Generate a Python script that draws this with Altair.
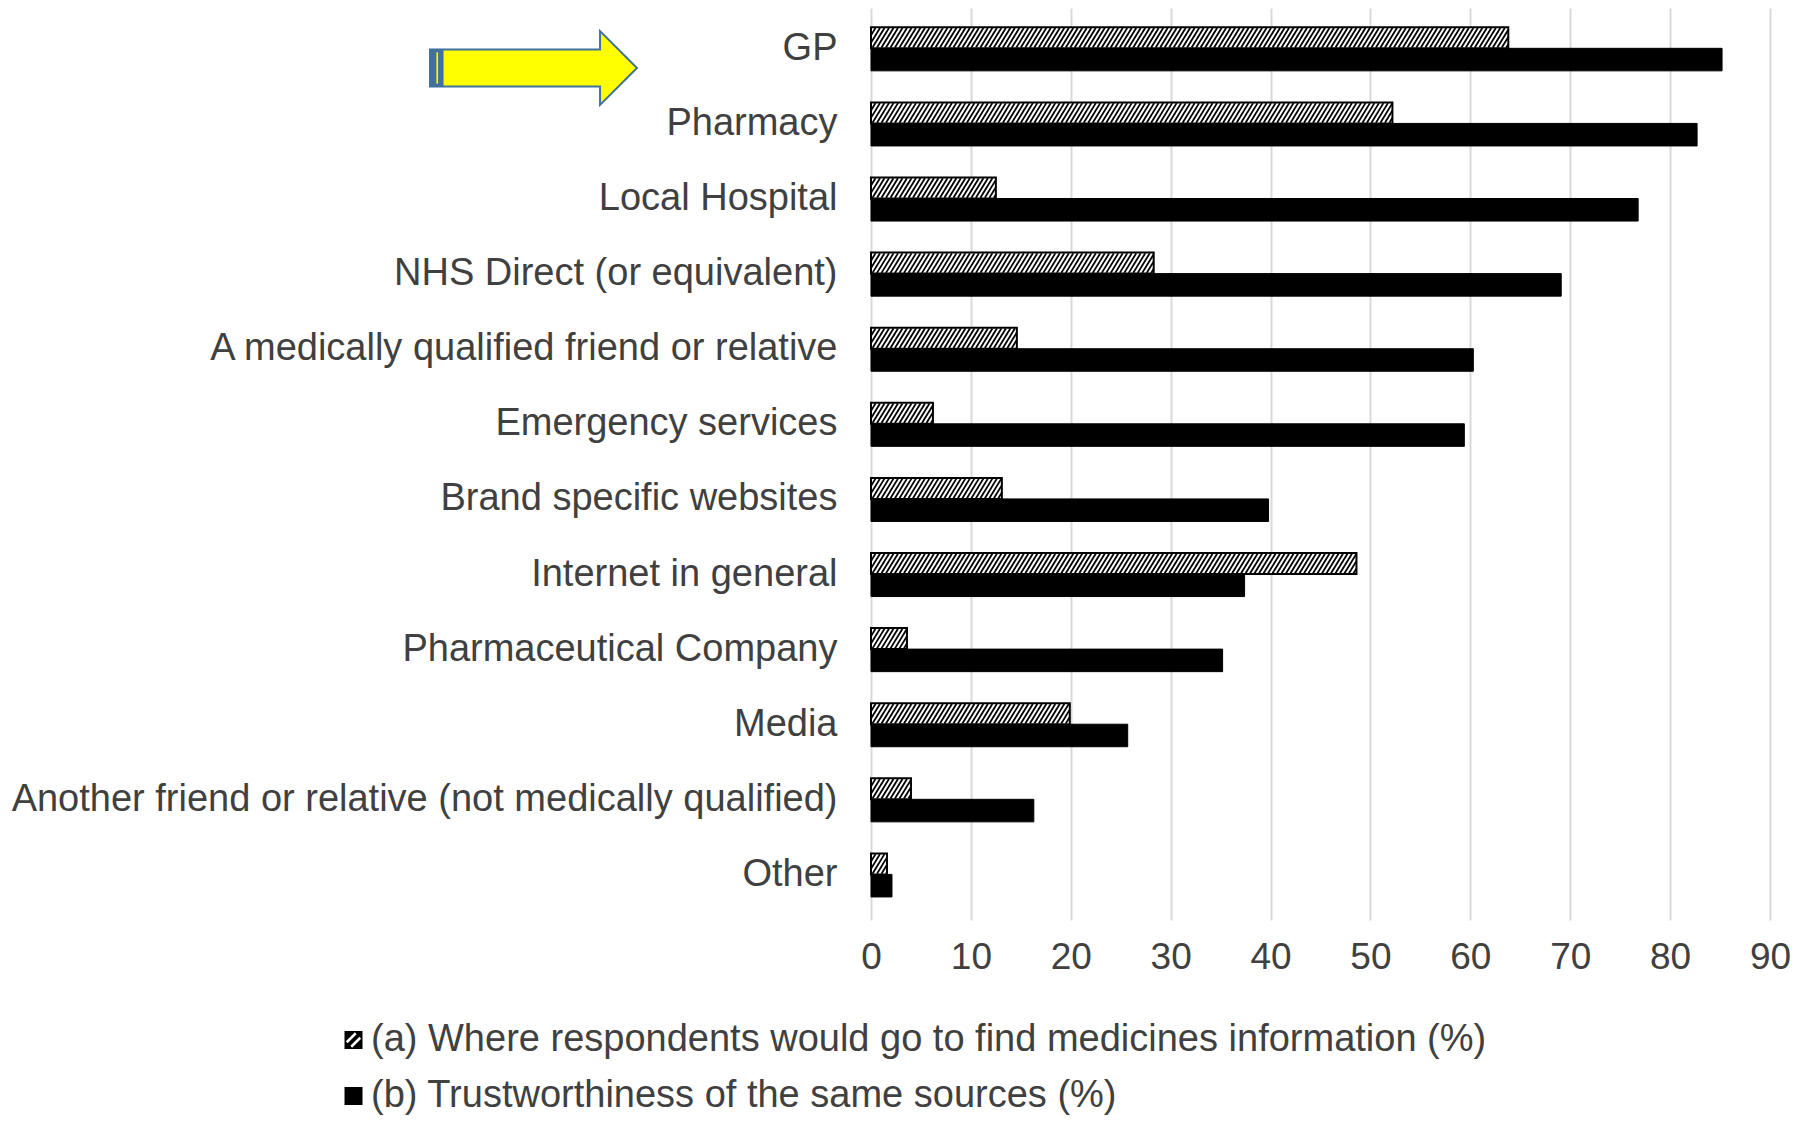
import json
import altair as alt
import pandas as pd

# ---------------- data ----------------
CATEGORIES = [
    "GP",
    "Pharmacy",
    "Local Hospital",
    "NHS Direct (or equivalent)",
    "A medically qualified friend or relative",
    "Emergency services",
    "Brand specific websites",
    "Internet in general",
    "Pharmaceutical Company",
    "Media",
    "Another friend or relative (not medically qualified)",
    "Other",
]
WHERE = [63.8, 52.2, 12.5, 28.3, 14.6, 6.2, 13.1, 48.6, 3.6, 19.9, 4.0, 1.6]
TRUST = [85.2, 82.7, 76.8, 69.1, 60.3, 59.4, 39.8, 37.4, 35.2, 25.7, 16.3, 2.1]
SERIES = [
    "(a) Where respondents would go to find medicines information (%)",
    "(b) Trustworthiness of the same sources (%)",
]
X_TICKS = [0, 10, 20, 30, 40, 50, 60, 70, 80, 90]

# ---------------- styling ----------------
FONT = "Liberation Sans"
TEXT_COLOR = "#404040"
GRID_COLOR = "#d9d9d9"
H_BAR = 0.28      # hatched bar thickness (band units)
S_BAR = 0.30      # solid bar thickness
HATCH_STEP = 0.45  # spacing of hatch lines (x units)
HATCH_DX = 1.2     # horizontal run of one hatch line

bars = pd.DataFrame({
    "cat": CATEGORIES,
    "idx": list(range(len(CATEGORIES))),
    "where": WHERE,
    "trust": TRUST,
})

# hatch line segments, clipped to each hatched bar
rows = []
for k, v in enumerate(WHERE):
    a = -HATCH_DX
    while a < v:
        t0 = max(0.0, -a / HATCH_DX)
        t1 = min(1.0, (v - a) / HATCH_DX)
        if t1 > t0:
            yb = k - 0.01
            yt = k - H_BAR + 0.01
            rows.append({
                "x": a + t0 * HATCH_DX,
                "x2": a + t1 * HATCH_DX,
                "y": yb + t0 * (yt - yb),
                "y2": yb + t1 * (yt - yb),
            })
        a += HATCH_STEP
hatch = pd.DataFrame(rows)

xscale = alt.Scale(domain=[0, 90], nice=False, zero=False)
yscale = alt.Scale(domain=[-0.537, 11.607], reverse=True, nice=False, zero=False)

label_expr = json.dumps(CATEGORIES) + "[datum.value]"

X_AXIS = alt.Axis(
    values=X_TICKS, grid=True, gridColor=GRID_COLOR, gridWidth=2,
    domain=False, ticks=False, labelFontSize=37, labelFont=FONT,
    labelColor=TEXT_COLOR, labelPadding=19, labelFlush=False,
    labelOverlap=False, title=None)
Y_AXIS = alt.Axis(
    values=list(range(len(CATEGORIES))), labelExpr=label_expr,
    grid=False, domain=False, ticks=False, labelFontSize=38,
    labelFont=FONT, labelColor=TEXT_COLOR, labelPadding=34,
    labelOffset=0, labelFlush=False, labelOverlap=False,
    labelLimit=2000, title=None)

solid = alt.Chart(bars).transform_calculate(
    x0="0", y_top="datum.idx", y_bot="datum.idx + %f" % S_BAR
).mark_rect(color="black", stroke="black", strokeWidth=1).encode(
    x=alt.X("x0:Q", scale=xscale, axis=X_AXIS),
    x2="trust:Q",
    y=alt.Y("y_top:Q", scale=yscale, axis=Y_AXIS),
    y2="y_bot:Q",
)

hatched_bg = alt.Chart(bars).transform_calculate(
    x0="0", y_top="datum.idx - %f" % H_BAR, y_bot="datum.idx"
).mark_rect(fill="white", stroke="black", strokeWidth=2).encode(
    x=alt.X("x0:Q", scale=xscale, axis=X_AXIS),
    x2="where:Q",
    y=alt.Y("y_top:Q", scale=yscale, axis=Y_AXIS),
    y2="y_bot:Q",
)

hatch_lines = alt.Chart(hatch).mark_rule(color="black", strokeWidth=1.8, strokeCap="butt").encode(
    x=alt.X("x:Q", scale=xscale, axis=X_AXIS),
    x2="x2:Q",
    y=alt.Y("y:Q", scale=yscale, axis=Y_AXIS),
    y2="y2:Q",
)

one = pd.DataFrame({"a": [0]})
ARROW = "M -1 -0.179 L 0.643 -0.179 L 0.643 -0.357 L 1 0 L 0.643 0.357 L 0.643 0.179 L -1 0.179 Z"
ARROW_TAIL = "M -1 -0.179 L -0.874 -0.179 L -0.874 0.179 L -1 0.179 Z"
ARROW_STRIPE = "M -0.938 -0.15 L -0.922 -0.15 L -0.922 0.15 L -0.938 0.15 Z"
ARROW_SIZE = 207 * 207

arrow = alt.Chart(one).mark_point(
    shape=ARROW, size=ARROW_SIZE, filled=True, fill="#FFFF00",
    stroke="#41719C", strokeWidth=2, opacity=1
).encode(x=alt.value(-337.5), y=alt.value(60))
arrow_tail = alt.Chart(one).mark_point(
    shape=ARROW_TAIL, size=ARROW_SIZE, filled=True, fill="#41719C",
    stroke="#41719C", strokeWidth=1, opacity=1
).encode(x=alt.value(-337.5), y=alt.value(60))
arrow_stripe = alt.Chart(one).mark_point(
    shape=ARROW_STRIPE, size=ARROW_SIZE, filled=True, fill="#FFFF00",
    strokeWidth=0, opacity=1
).encode(x=alt.value(-337.5), y=alt.value(60))

# legend (drawn manually so the hatched key can be reproduced)
LEG_X = -517.5
LEG_TX = -500
LEG_Y1 = 1032
LEG_Y2 = 1088
leg_a_box = alt.Chart(one).mark_point(
    shape="square", size=324, filled=True, color="black", opacity=1
).encode(x=alt.value(LEG_X), y=alt.value(LEG_Y1))
leg_a_hatch = alt.Chart(one).mark_point(
    shape="M -0.75 0.25 L 0.25 -0.75 M -0.25 0.75 L 0.75 -0.25",
    size=324, filled=False, stroke="white", strokeWidth=2.5, opacity=1
).encode(x=alt.value(LEG_X), y=alt.value(LEG_Y1))
leg_b_box = alt.Chart(one).mark_point(
    shape="square", size=324, filled=True, color="black", opacity=1
).encode(x=alt.value(LEG_X), y=alt.value(LEG_Y2))
leg_a_text = alt.Chart(pd.DataFrame({"s": [SERIES[0]]})).mark_text(
    align="left", baseline="middle", font=FONT, fontSize=38, color=TEXT_COLOR
).encode(text="s:N", x=alt.value(LEG_TX), y=alt.value(LEG_Y1))
leg_b_text = alt.Chart(pd.DataFrame({"s": [SERIES[1]]})).mark_text(
    align="left", baseline="middle", font=FONT, fontSize=38, color=TEXT_COLOR
).encode(text="s:N", x=alt.value(LEG_TX), y=alt.value(LEG_Y2))

chart = alt.layer(
    solid, hatched_bg, hatch_lines,
    arrow, arrow_tail, arrow_stripe,
    leg_a_box, leg_a_hatch, leg_b_box, leg_a_text, leg_b_text,
).properties(
    width=899,
    height=912,
    autosize=alt.AutoSizeParams(type="none"),
    padding={"left": 863, "top": 0, "right": 23, "bottom": 197},
    background="white",
).configure_view(stroke=None)

chart.save("out.html", embed_options={"renderer": "svg", "actions": False})
